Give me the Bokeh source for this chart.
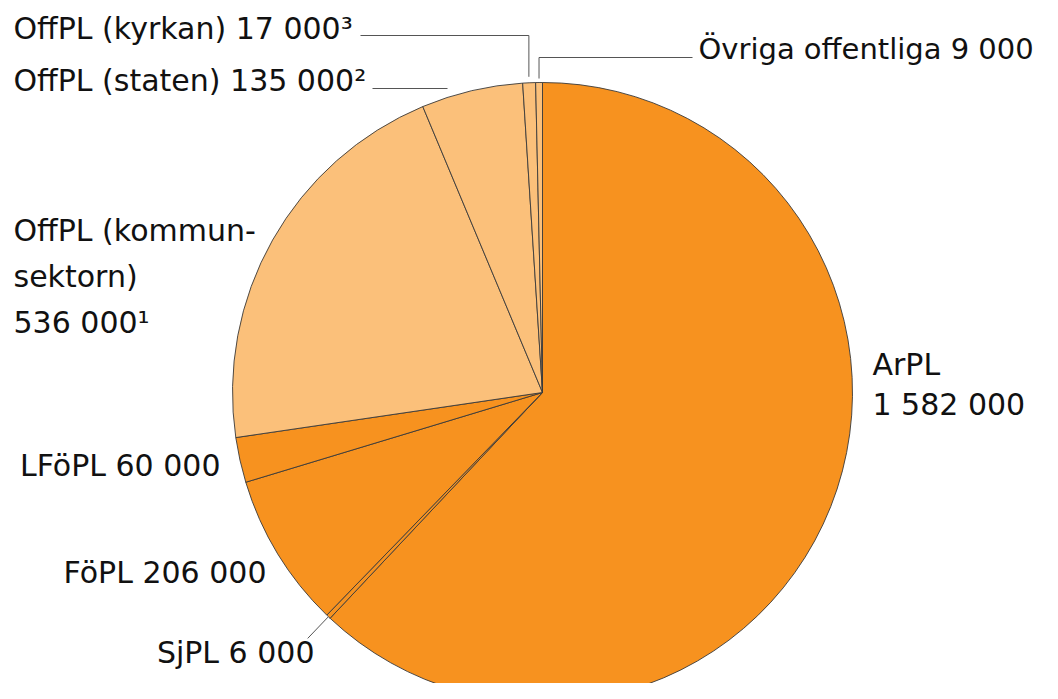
import numpy as np
from bokeh.plotting import figure
from bokeh.models import Range1d, ColumnDataSource
from bokeh.core.properties import value
from bokeh.embed import file_html
from bokeh.resources import INLINE

# ---- data (clockwise from 12 o'clock) ----
categories = ["ArPL", "SjPL", "FöPL", "LFöPL", "OffPL (kommunsektorn)",
              "OffPL (staten)", "OffPL (kyrkan)", "Övriga offentliga"]
values = [1582000, 6000, 206000, 60000, 536000, 135000, 17000, 9000]
label_texts = [["ArPL", "1 582 000"], ["SjPL 6 000"], ["FöPL 206 000"], ["LFöPL 60 000"],
               ["OffPL (kommun-", "sektorn)", "536 000¹"], ["OffPL (staten) 135 000²"],
               ["OffPL (kyrkan) 17 000³"], ["Övriga offentliga 9 000"]]

DARK = "#F7921F"
LIGHT = "#FBC07A"
colors = [DARK, DARK, DARK, DARK, LIGHT, LIGHT, LIGHT, LIGHT]

W, H = 1042, 683
def sx(x): return x
def sy(y): return H - y

CX, CY, R = sx(542), sy(392), 310

vals = np.array(values, dtype=float)
frac = vals / vals.sum()
cum = np.concatenate([[0], np.cumsum(frac)])
start = np.deg2rad(90 - cum[:-1] * 360)
end = np.deg2rad(90 - cum[1:] * 360)
mid = (start + end) / 2

p = figure(width=W, height=H, x_range=Range1d(0, W), y_range=Range1d(0, H),
           output_backend="svg", toolbar_location=None, min_border=0)
p.axis.visible = False
p.grid.visible = False
p.outline_line_color = None
p.background_fill_color = "white"

src = ColumnDataSource(dict(start=start, end=end, color=colors, name=categories))
p.wedge(x=CX, y=CY, radius=R, start_angle="start", end_angle="end", direction="clock",
        fill_color="color", line_color="#3a3a3a", line_width=0.9, source=src)

FONT = value("DejaVu Sans")
FS = "30px"
TC = "#111111"

def txt(x, y, t, align="left", fs=FS):
    p.text(x=[sx(x)], y=[sy(y)], text=[t], text_font=FONT, text_font_size=fs,
           text_color=TC, text_baseline="middle", text_align=align)

def pt(i, r):
    return CX + r * np.cos(mid[i]), CY + r * np.sin(mid[i])

LC = "#555555"
# ArPL
txt(872, 363.5, label_texts[0][0]); txt(872, 403.5, label_texts[0][1])
# SjPL
x0, y0 = pt(1, R); x1, y1 = pt(1, R + 30)
p.line([x0, x1], [y0, y1], line_color=LC, line_width=1)
txt(314, 651.5, label_texts[1][0], "right")
# FöPL
txt(266, 571.5, label_texts[2][0], "right")
# LFöPL
txt(220, 464.5, label_texts[3][0], "right")
# kommunsektorn
for k, t in enumerate(label_texts[4]):
    txt(13, 229.5 + k * 46, t)
# staten
txt(13, 80, label_texts[5][0])
p.line([sx(372), sx(447)], [sy(88), sy(88)], line_color=LC, line_width=1)
# kyrkan
txt(13, 28, label_texts[6][0])
xk, yk = pt(6, R + 6)
p.line([sx(360), xk, xk], [sy(35), sy(35), yk], line_color=LC, line_width=1)
# Övriga
txt(698, 48.5, label_texts[7][0], fs="29px")
xo, yo = pt(7, R + 4)
p.line([sx(692), xo, xo], [sy(57), sy(57), yo], line_color=LC, line_width=1)

open("out.html", "w").write(file_html(p, INLINE))
